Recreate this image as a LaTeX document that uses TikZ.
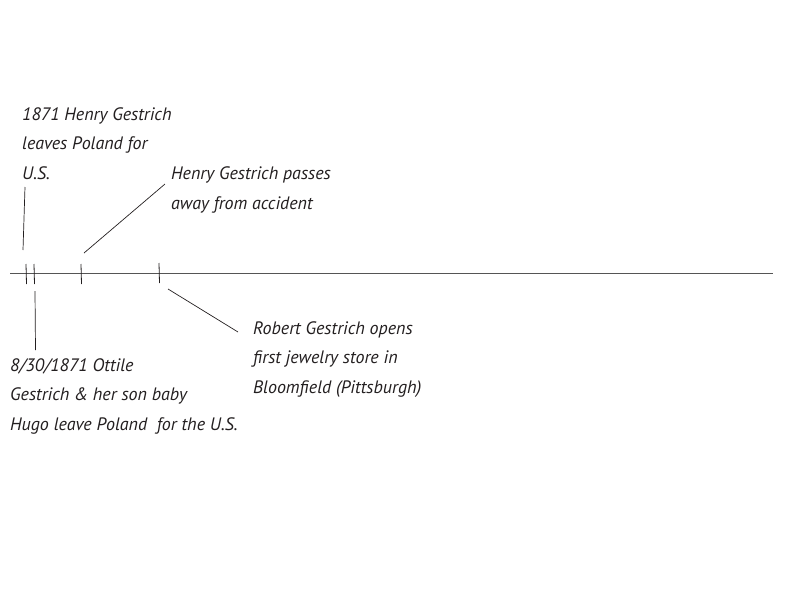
\documentclass[tikz,border=0pt]{standalone}
\usepackage{fontspec}
\setmainfont{PT Sans}
\usepackage{tikz}
\usetikzlibrary{positioning}
\definecolor{inkgrey}{HTML}{231F20}
\definecolor{axisgrey}{HTML}{555555}

\begin{document}
\begin{tikzpicture}[
    x=1pt, y=-1pt,
    event/.style={inner sep=0pt, anchor=base west, align=left, text=inkgrey, font=\fontsize{18}{29.5}\selectfont\itshape},
    axis/.style={line width=1pt, axisgrey},
    tick/.style={line width=0.8pt, inkgrey},
    leader/.style={line width=0.7pt, inkgrey}
]
\useasboundingbox (0,0) rectangle (800,600);
\coordinate (start) at (10,273);
\coordinate (end) at (773,273);
\draw[axis] (start) -- (end);
\coordinate (t1a) at (26,264); \coordinate (t1b) at (26.5,284);
\coordinate (t2a) at (34,264); \coordinate (t2b) at (34.5,284);
\coordinate (t3a) at (81,264); \coordinate (t3b) at (81.5,284);
\coordinate (t4a) at (159,263); \coordinate (t4b) at (159.5,283);
\draw[tick] (t1a) -- (t1b); \draw[tick] (t2a) -- (t2b);
\draw[tick] (t3a) -- (t3b); \draw[tick] (t4a) -- (t4b);
\node[event] (henry) at (22,179) {1871 Henry Gestrich\\leaves Poland for\\U.S.};
\node[event] (passes) at (171,209) {Henry Gestrich passes\\away from accident};
\node[event] (ottile) at (10,430) {8/30/1871 Ottile\\Gestrich \& her son baby\\Hugo leave Poland\ \ for the U.S.};
\node[event] (robert) at (253,393) {Robert Gestrich opens\\first jewelry store in\\Bloomfield (Pittsburgh)};
\coordinate (henryfoot) at (25,187); \coordinate (henrytick) at (23,250);
\coordinate (passesfoot) at (165,184); \coordinate (passestick) at (84,253);
\coordinate (ottiletick) at (35,291); \coordinate (ottilefoot) at (35.5,350);
\coordinate (roberttick) at (168,289); \coordinate (robertfoot) at (238,332);
\draw[leader] (henryfoot) -- (henrytick);
\draw[leader] (passesfoot) -- (passestick);
\draw[leader] (ottiletick) -- (ottilefoot);
\draw[leader] (roberttick) -- (robertfoot);
\end{tikzpicture}
\end{document}
